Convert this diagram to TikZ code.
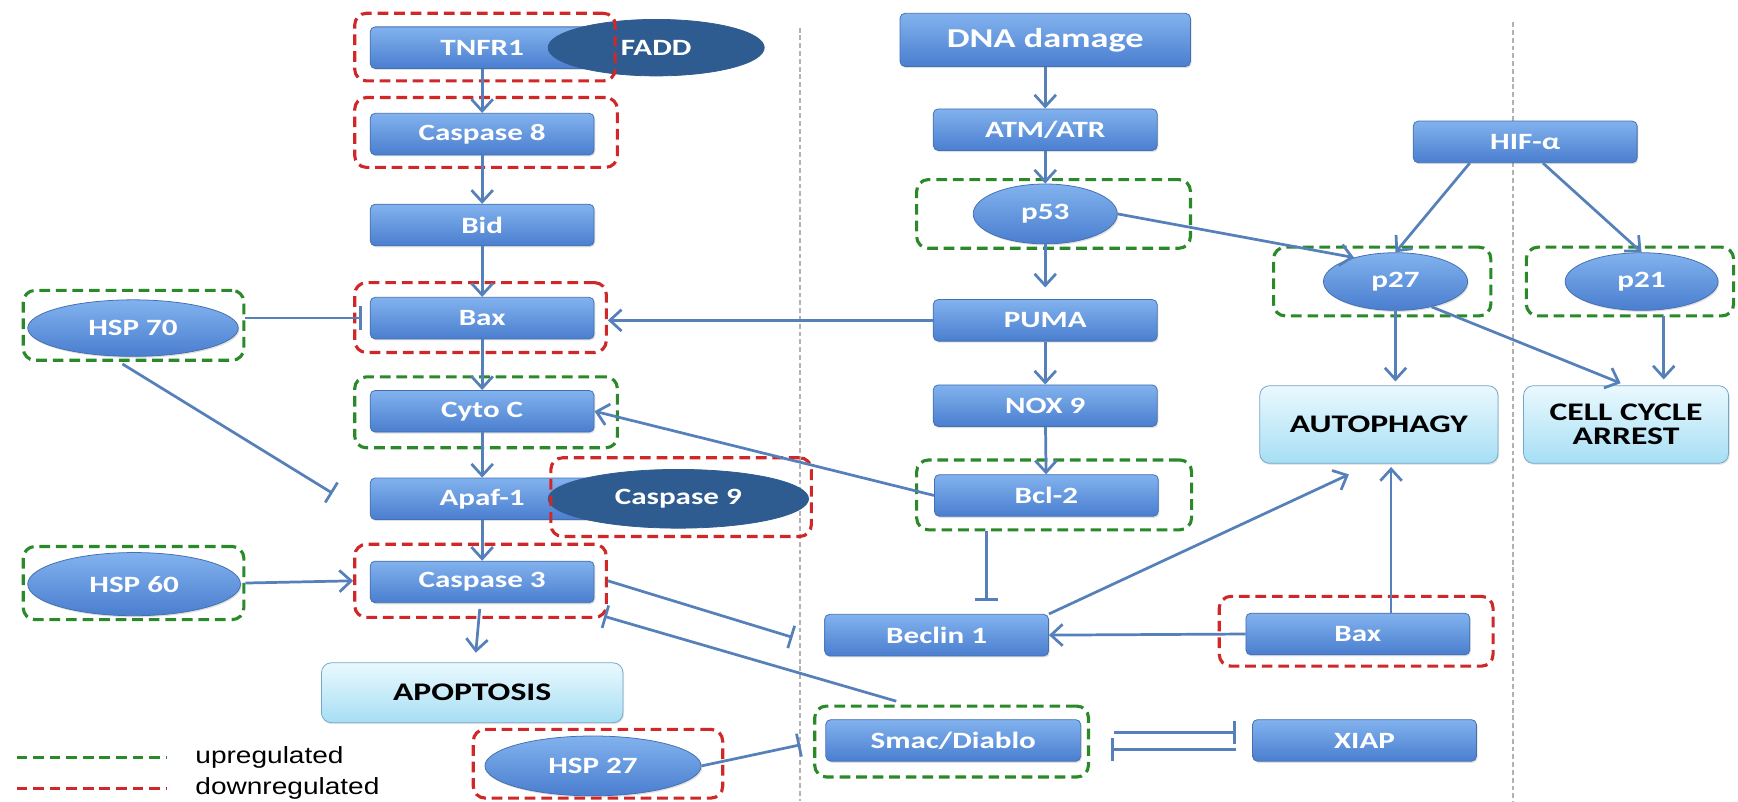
\documentclass[tikz,border=0pt]{standalone}
\usepackage{fontspec}
\setmainfont[FakeStretch=1.33]{Carlito}
\newfontfamily\legendfont[FakeStretch=1.2]{Liberation Sans}
\usetikzlibrary{calc}
\usetikzlibrary{arrows.meta}
\usetikzlibrary{shapes.geometric}
\usetikzlibrary{shadows}
\usetikzlibrary{fit}

\definecolor{boxtop}{HTML}{82B2EE}
\definecolor{boxbot}{HTML}{4A7ECF}
\definecolor{boxline}{HTML}{4470B0}
\definecolor{darkell}{HTML}{2F5C90}
\definecolor{outtop}{HTML}{EAF9FE}
\definecolor{outbot}{HTML}{A6DEF4}
\definecolor{outline}{HTML}{74A6C8}
\definecolor{upgreen}{HTML}{2A8A2A}
\definecolor{dnred}{HTML}{D02828}
\definecolor{linkblue}{HTML}{5580BA}

\begin{document}
\begin{tikzpicture} [x=0.02cm, y=-0.02cm,
  blbox/.style={draw=boxline, rounded corners=2.5pt, top color=boxtop, bottom color=boxbot, text=white,
    minimum width=4.04cm, minimum height=0.75cm, inner sep=0pt, font=\bfseries\fontsize{12}{14}\selectfont,
    drop shadow={opacity=0.25, shadow xshift=0.6pt, shadow yshift=-0.8pt}},
  blell/.style={ellipse, draw=boxline, top color=boxtop, bottom color=boxbot, text=white, inner sep=0pt,
    font=\bfseries\fontsize{12}{14}\selectfont, drop shadow={opacity=0.25, shadow xshift=0.6pt, shadow yshift=-0.8pt}},
  dkell/.style={ellipse, draw=darkell, fill=darkell, text=white, inner sep=0pt, font=\bfseries\fontsize{12}{14}\selectfont},
  outbox/.style={draw=outline, rounded corners=5pt, top color=outtop, bottom color=outbot, inner sep=0pt,
    align=center, font=\bfseries\fontsize{13}{12.5}\selectfont,
    drop shadow={opacity=0.2, shadow xshift=0.6pt, shadow yshift=-0.8pt}},
  updash/.style={draw=upgreen, line width=1.6pt, dash pattern=on 5.5pt off 3pt, rounded corners=6pt, inner sep=0pt},
  dndash/.style={draw=dnred, line width=1.6pt, dash pattern=on 5.5pt off 3pt, rounded corners=6pt, inner sep=0pt},
  sepline/.style={draw=gray!60, line width=1pt, dash pattern=on 2.5pt off 1.5pt},
  act/.style={draw=linkblue, line width=1.4pt, -{Straight Barb[length=6pt,width=11pt]}},
  inh/.style={draw=linkblue, line width=1.4pt, -{Bar[width=12pt]}},
  legtext/.style={anchor=west, inner sep=0pt, font=\legendfont\fontsize{12}{14}\selectfont}]

\useasboundingbox (0,0) rectangle (1568,723);

\draw[sepline] (722,25) -- (722,723);
\draw[sepline] (1365,20) -- (1365,723);

\node[blbox] (tnfr) at (435,43) {TNFR1};
\node[dkell, minimum width=3.9cm, minimum height=1.02cm] (fadd) at (592,43) {FADD};
\node[blbox] (casp8) at (435,121) {Caspase 8};
\node[blbox] (bid) at (435,203) {Bid};
\node[blbox] (bax) at (435,287) {Bax};
\node[blbox] (cytoc) at (435,371) {Cyto C};
\node[blbox] (apaf) at (435,450) {Apaf-1};
\node[dkell, minimum width=4.7cm, minimum height=1.06cm] (casp9) at (612,450) {Caspase 9};
\node[blbox] (casp3) at (435,525) {Caspase 3};
\node[outbox, minimum width=5.44cm, minimum height=1.08cm] (apop) at (426,625) {APOPTOSIS};
\node[blell, minimum width=3.8cm, minimum height=1.02cm] (hsp70) at (120,296) {HSP 70};
\node[blell, minimum width=3.84cm, minimum height=1.14cm] (hsp60) at (121,527) {HSP 60};
\node[blell, minimum width=3.9cm, minimum height=1.08cm] (hsp27) at (535,691) {HSP 27};

\node[blbox, minimum width=5.24cm, minimum height=0.96cm, font=\bfseries\fontsize{14}{16}\selectfont] (dna) at (943,36) {DNA damage};
\node[blbox] (atm) at (943,117) {ATM/ATR};
\node[blell, minimum width=2.6cm, minimum height=1.08cm] (p53) at (943,193) {p53};
\node[blbox] (puma) at (943,289) {PUMA};
\node[blbox] (nox) at (943,366) {NOX 9};
\node[blbox] (bcl) at (944,447) {Bcl-2};
\node[blbox] (beclin) at (845,573) {Beclin 1};
\node[blbox, minimum width=4.6cm] (smac) at (860,668) {Smac/Diablo};
\node[blbox] (xiap) at (1231,668) {XIAP};

\node[blbox] (hif) at (1376,128) {HIF-α};
\node[blell, minimum width=2.6cm, minimum height=1.04cm] (p27) at (1259,254) {p27};
\node[blell, minimum width=2.76cm, minimum height=1.04cm] (p21) at (1481,254) {p21};
\node[outbox, minimum width=4.3cm, minimum height=1.4cm] (autoph) at (1244,383) {AUTOPHAGY};
\node[outbox, minimum width=3.7cm, minimum height=1.4cm] (cellc) at (1467,383) {CELL CYCLE\\ARREST};
\node[blbox] (bax2) at (1225,572) {Bax};

\node[dndash, fit={(320,12) (555,73)}] (tnfrdn) {};
\node[dndash, fit={(320,88) (557,151)}] (casp8dn) {};
\node[dndash, fit={(320,255) (547,318)}] (baxdn) {};
\node[updash, fit={(320,340) (557,404)}] (cytocup) {};
\node[dndash, fit={(497,413) (732,484)}] (casp9dn) {};
\node[dndash, fit={(320,491) (547,557)}] (casp3dn) {};
\node[updash, fit={(21,262) (220,325)}] (hsp70up) {};
\node[updash, fit={(21,493) (220,559)}] (hsp60up) {};
\node[dndash, fit={(427,658) (652,720)}] (hsp27dn) {};
\node[updash, fit={(827,162) (1074,224)}] (p53up) {};
\node[updash, fit={(827,415) (1075,478)}] (bclup) {};
\node[updash, fit={(735,637) (982,701)}] (smacup) {};
\node[updash, fit={(1149,223) (1345,285)}] (p27up) {};
\node[updash, fit={(1377,223) (1564,285)}] (p21up) {};
\node[dndash, fit={(1100,538) (1347,601)}] (bax2dn) {};

\coordinate (apafin) at (300,445);
\coordinate (beclinin) at (715,575);
\coordinate (casp3in) at (545,556);
\coordinate (smacin) at (722,672);
\coordinate (autoin) at (1217,428);
\coordinate (p21out) at (1501,285);

\draw[act] (tnfr) -- (casp8);
\draw[act] (casp8) -- (bid);
\draw[act] (bid) -- (bax);
\draw[act] (bax) -- (cytoc);
\draw[act] (cytoc) -- (apaf);
\draw[act] (apaf) -- (casp3);
\draw[act, shorten <=3pt, shorten >=5pt] (casp3) -- (apop);
\draw[inh, shorten >=4pt] (hsp70up.east |- bax.west) -- (bax.west);
\draw[act] (puma.west) -- (puma.west -| baxdn.east);
\draw[inh] ($(hsp70up.south)+(-10,2)$) -- (apafin);
\draw[act] (hsp60up.east) -- (casp3dn.west);
\draw[inh] (casp3dn.east) -- (beclinin);
\draw[inh] ($(smacup.north west)+(75,-3)$) -- (casp3in);
\draw[inh] (hsp27.east) -- (smacin);

\draw[act] (dna) -- (atm);
\draw[act] (atm) -- (p53);
\draw[act, shorten >=6pt] (p53) -- (puma);
\draw[act] (puma) -- (nox);
\draw[act] (nox) -- (bcl);
\draw[act] (bcl.west) -- (cytoc.east);
\draw[inh] ($(bclup.south)+(-61,0)$) -- ($(beclin.north)+(45,-12)$);
\draw[act] (beclin.north east) -- (autoin);
\draw[act] (bax2.west) -- (beclin.east);
\draw[act] ($(bax2.north)+(30,0)$) -- ($(autoph.south)+(11,3)$);

\draw[act] (p53.east) -- (p27.150);
\draw[act] ($(hif.south)+(-50,0)$) -- (p27.north);
\draw[act] ($(hif.south)+(16,0)$) -- (p21.north);
\draw[act, shorten >=2pt] (p27) -- (p27 |- autoph.north);
\draw[act, shorten >=3pt] (p27.-35) -- (cellc.north);
\draw[act, shorten >=3pt] (p21out) -- (p21out |- cellc.north);

\draw[inh] ($(smac.east)+(30,-7)$) -- ($(xiap.west)+(-15,-7)$);
\draw[inh] ($(xiap.west)+(-15,8)$) -- ($(smac.east)+(27,8)$);

\draw[updash] (15,683) -- (150,683);
\draw[dndash] (15,711) -- (150,711);
\node[legtext] (uplab) at (176,683) {upregulated};
\node[legtext] (dnlab) at (176,711) {downregulated};

\end{tikzpicture}
\end{document}
